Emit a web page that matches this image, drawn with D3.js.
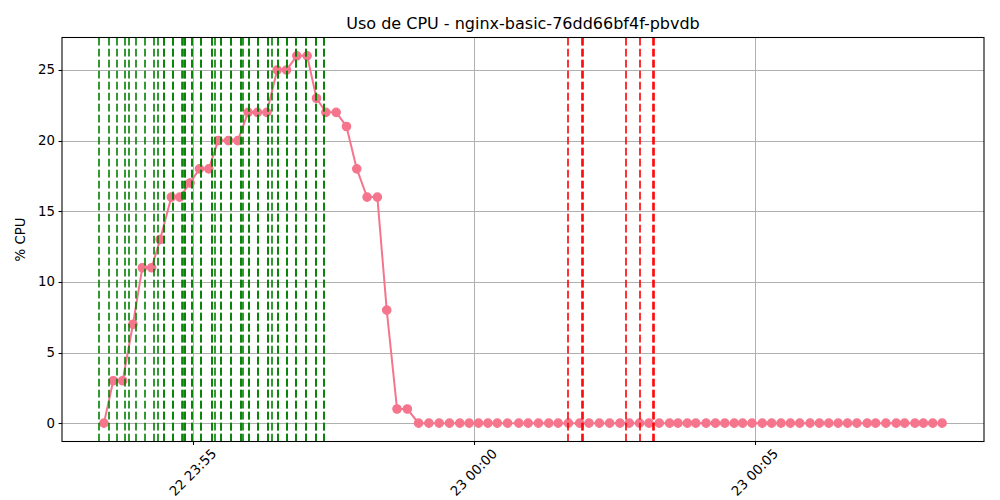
<!DOCTYPE html>
<html>
<head>
<meta charset="utf-8">
<script src="https://cdn.jsdelivr.net/npm/d3@7"></script>
<style>
  html, body { margin: 0; padding: 0; background: #fff; }
  svg { display: block; font-family: "DejaVu Sans", sans-serif; }
</style>
</head>
<body>
<svg id="chart" width="1000" height="500"></svg>
<script>
// ---- data ----
const title = "Uso de CPU - nginx-basic-76dd66bf4f-pbvdb";
const yLabel = "% CPU";

const timestamps = [
  "2025-06-22 23:53:25", "2025-06-22 23:53:35", "2025-06-22 23:53:45", "2025-06-22 23:53:56",
  "2025-06-22 23:54:06", "2025-06-22 23:54:16", "2025-06-22 23:54:25", "2025-06-22 23:54:37",
  "2025-06-22 23:54:46", "2025-06-22 23:54:57", "2025-06-22 23:55:07", "2025-06-22 23:55:17",
  "2025-06-22 23:55:27", "2025-06-22 23:55:38", "2025-06-22 23:55:48", "2025-06-22 23:55:59",
  "2025-06-22 23:56:09", "2025-06-22 23:56:19", "2025-06-22 23:56:30", "2025-06-22 23:56:40",
  "2025-06-22 23:56:51", "2025-06-22 23:57:02", "2025-06-22 23:57:12", "2025-06-22 23:57:22",
  "2025-06-22 23:57:33", "2025-06-22 23:57:44", "2025-06-22 23:57:55", "2025-06-22 23:58:06",
  "2025-06-22 23:58:17", "2025-06-22 23:58:27", "2025-06-22 23:58:38", "2025-06-22 23:58:49",
  "2025-06-22 23:59:01", "2025-06-22 23:59:12", "2025-06-22 23:59:23", "2025-06-22 23:59:34",
  "2025-06-22 23:59:45", "2025-06-22 23:59:55", "2025-06-23 00:00:05", "2025-06-23 00:00:15",
  "2025-06-23 00:00:25", "2025-06-23 00:00:36", "2025-06-23 00:00:48", "2025-06-23 00:00:58",
  "2025-06-23 00:01:09", "2025-06-23 00:01:20", "2025-06-23 00:01:30", "2025-06-23 00:01:41",
  "2025-06-23 00:01:53", "2025-06-23 00:02:03", "2025-06-23 00:02:14", "2025-06-23 00:02:25",
  "2025-06-23 00:02:36", "2025-06-23 00:02:46", "2025-06-23 00:02:57", "2025-06-23 00:03:07",
  "2025-06-23 00:03:18", "2025-06-23 00:03:29", "2025-06-23 00:03:38", "2025-06-23 00:03:48",
  "2025-06-23 00:03:57", "2025-06-23 00:04:08", "2025-06-23 00:04:18", "2025-06-23 00:04:28",
  "2025-06-23 00:04:38", "2025-06-23 00:04:47", "2025-06-23 00:04:57", "2025-06-23 00:05:08",
  "2025-06-23 00:05:18", "2025-06-23 00:05:28", "2025-06-23 00:05:38", "2025-06-23 00:05:48",
  "2025-06-23 00:05:59", "2025-06-23 00:06:09", "2025-06-23 00:06:19", "2025-06-23 00:06:29",
  "2025-06-23 00:06:39", "2025-06-23 00:06:49", "2025-06-23 00:07:00", "2025-06-23 00:07:09",
  "2025-06-23 00:07:20", "2025-06-23 00:07:31", "2025-06-23 00:07:40", "2025-06-23 00:07:51",
  "2025-06-23 00:08:00", "2025-06-23 00:08:10", "2025-06-23 00:08:20"
];

const cpuValues = [
  0, 3, 3, 7, 11, 11, 13, 16, 16, 17, 18, 18, 20, 20, 20, 22, 22, 22, 25, 25, 26, 26,
  23, 22, 22, 21, 18, 16, 16, 8, 1, 1,
  0, 0, 0, 0, 0, 0, 0, 0, 0, 0, 0, 0, 0, 0, 0, 0, 0, 0, 0, 0, 0, 0, 0, 0, 0,
  0, 0, 0, 0, 0, 0, 0, 0, 0, 0, 0, 0, 0, 0, 0, 0, 0, 0, 0, 0, 0, 0, 0, 0, 0,
  0, 0, 0, 0, 0
];

// green events (scale-up), repeated timestamps overlap
const greenEvents = [
  "2025-06-22 23:53:20", "2025-06-22 23:53:30", "2025-06-22 23:53:39", "2025-06-22 23:53:48",
  "2025-06-22 23:53:52", "2025-06-22 23:53:59", "2025-06-22 23:54:09", "2025-06-22 23:54:19",
  "2025-06-22 23:54:23",
  "2025-06-22 23:54:29", "2025-06-22 23:54:29", "2025-06-22 23:54:39", "2025-06-22 23:54:39",
  "2025-06-22 23:54:48", "2025-06-22 23:54:49", "2025-06-22 23:54:52", "2025-06-22 23:54:52",
  "2025-06-22 23:54:59", "2025-06-22 23:54:59", "2025-06-22 23:55:09", "2025-06-22 23:55:09",
  "2025-06-22 23:55:20", "2025-06-22 23:55:20", "2025-06-22 23:55:24",
  "2025-06-22 23:55:30", "2025-06-22 23:55:30", "2025-06-22 23:55:41", "2025-06-22 23:55:41",
  "2025-06-22 23:55:51", "2025-06-22 23:55:51", "2025-06-22 23:55:54",
  "2025-06-22 23:56:00", "2025-06-22 23:56:00", "2025-06-22 23:56:10", "2025-06-22 23:56:10",
  "2025-06-22 23:56:20", "2025-06-22 23:56:20", "2025-06-22 23:56:24",
  "2025-06-22 23:56:31", "2025-06-22 23:56:31", "2025-06-22 23:56:40", "2025-06-22 23:56:40",
  "2025-06-22 23:56:50", "2025-06-22 23:56:50", "2025-06-22 23:57:01", "2025-06-22 23:57:01",
  "2025-06-22 23:57:11", "2025-06-22 23:57:11", "2025-06-22 23:57:20", "2025-06-22 23:57:20"
];

// red events (scale-down)
const redEvents = [
  "2025-06-23 00:01:41",
  "2025-06-23 00:01:56", "2025-06-23 00:01:57",
  "2025-06-23 00:02:42",
  "2025-06-23 00:02:57",
  "2025-06-23 00:03:11", "2025-06-23 00:03:12"
];

const yTicks = [0, 5, 10, 15, 20, 25];

// ---- layout ----
const M = { left: 62, right: 984, top: 37.5, bottom: 441.5 };
const lineColor = "#f5758d";

const parse = d3.timeParse("%Y-%m-%d %H:%M:%S");
const data = timestamps.map((t, i) => ({ t: parse(t), v: cpuValues[i] }));

const svg = d3.select("#chart");

const ext = d3.extent(data, d => d.t.getTime());
const pad = (ext[1] - ext[0]) * 0.05;
const x = d3.scaleTime()
  .domain([new Date(ext[0] - pad), new Date(ext[1] + pad)])
  .range([M.left, M.right]);

const yMax = d3.max(cpuValues), yMin = d3.min(cpuValues);
const ypad = (yMax - yMin) * 0.05;
const y = d3.scaleLinear()
  .domain([yMin - ypad, yMax + ypad])
  .range([M.bottom, M.top]);

const xTicks = x.ticks(d3.timeMinute.every(5));
const snap = v => Math.round(v) + 0.5;

// grid
const grid = svg.append("g");
grid.selectAll("line.gx").data(xTicks).join("line")
  .attr("x1", d => snap(x(d))).attr("x2", d => snap(x(d)))
  .attr("y1", M.top).attr("y2", M.bottom)
  .attr("stroke", "#b0b0b0").attr("stroke-width", 1);
grid.selectAll("line.gy").data(yTicks).join("line")
  .attr("x1", M.left).attr("x2", M.right)
  .attr("y1", d => snap(y(d))).attr("y2", d => snap(y(d)))
  .attr("stroke", "#b0b0b0").attr("stroke-width", 1);

// clip
svg.append("clipPath").attr("id", "clip").append("rect")
  .attr("x", M.left).attr("y", M.top)
  .attr("width", M.right - M.left).attr("height", M.bottom - M.top);

const plot = svg.append("g").attr("clip-path", "url(#clip)");

// series line + markers
plot.append("path")
  .datum(data)
  .attr("fill", "none")
  .attr("stroke", lineColor)
  .attr("stroke-width", 2)
  .attr("d", d3.line().x(d => x(d.t)).y(d => y(d.v)));

plot.selectAll("circle").data(data).join("circle")
  .attr("cx", d => x(d.t)).attr("cy", d => y(d.v))
  .attr("r", 4.2)
  .attr("fill", lineColor)
  .attr("stroke", lineColor).attr("stroke-width", 1.2);

// event lines
function vlines(list, color) {
  plot.append("g").selectAll("line").data(list.map(parse)).join("line")
    .attr("x1", d => Math.round(x(d))).attr("x2", d => Math.round(x(d)))
    .attr("y1", M.bottom).attr("y2", M.top)
    .attr("stroke", color)
    .attr("stroke-opacity", 0.8)
    .attr("stroke-width", 2)
    .attr("stroke-dasharray", "7.7,3.3");
}
vlines(greenEvents, "#008000");
vlines(redEvents, "#ff0000");

// spines
svg.append("rect")
  .attr("x", M.left).attr("y", M.top)
  .attr("width", M.right - M.left).attr("height", M.bottom - M.top)
  .attr("fill", "none").attr("stroke", "#000").attr("stroke-width", 1.07);

// y axis ticks
const yAxisG = svg.append("g");
yAxisG.selectAll("line").data(yTicks).join("line")
  .attr("x1", M.left - 3.5).attr("x2", M.left)
  .attr("y1", d => snap(y(d))).attr("y2", d => snap(y(d)))
  .attr("stroke", "#000").attr("stroke-width", 1.07);
yAxisG.selectAll("text").data(yTicks).join("text")
  .attr("x", M.left - 7).attr("y", d => y(d))
  .attr("text-anchor", "end").attr("dominant-baseline", "central")
  .attr("font-size", "13.33px").attr("fill", "#000")
  .text(d => d);

// x axis ticks
const fmt = d3.timeFormat("%d %H:%M");
const xAxisG = svg.append("g");
xAxisG.selectAll("line").data(xTicks).join("line")
  .attr("x1", d => snap(x(d))).attr("x2", d => snap(x(d)))
  .attr("y1", M.bottom).attr("y2", M.bottom + 3.5)
  .attr("stroke", "#000").attr("stroke-width", 1.07);
xAxisG.selectAll("text").data(xTicks).join("text")
  .attr("transform", d => `translate(${x(d)},${M.bottom + 7 + 24}) rotate(-45)`)
  .attr("text-anchor", "middle").attr("dominant-baseline", "central")
  .attr("font-size", "13.33px").attr("fill", "#000")
  .text(d => fmt(d));

// title & label
svg.append("text")
  .attr("x", (M.left + M.right) / 2).attr("y", 29)
  .attr("text-anchor", "middle")
  .attr("font-size", "16px").attr("fill", "#000")
  .text(title);

svg.append("text")
  .attr("transform", `translate(20,${(M.top + M.bottom) / 2}) rotate(-90)`)
  .attr("text-anchor", "middle").attr("dominant-baseline", "central")
  .attr("font-size", "13.33px").attr("fill", "#000")
  .text(yLabel);
</script>
</body>
</html>
